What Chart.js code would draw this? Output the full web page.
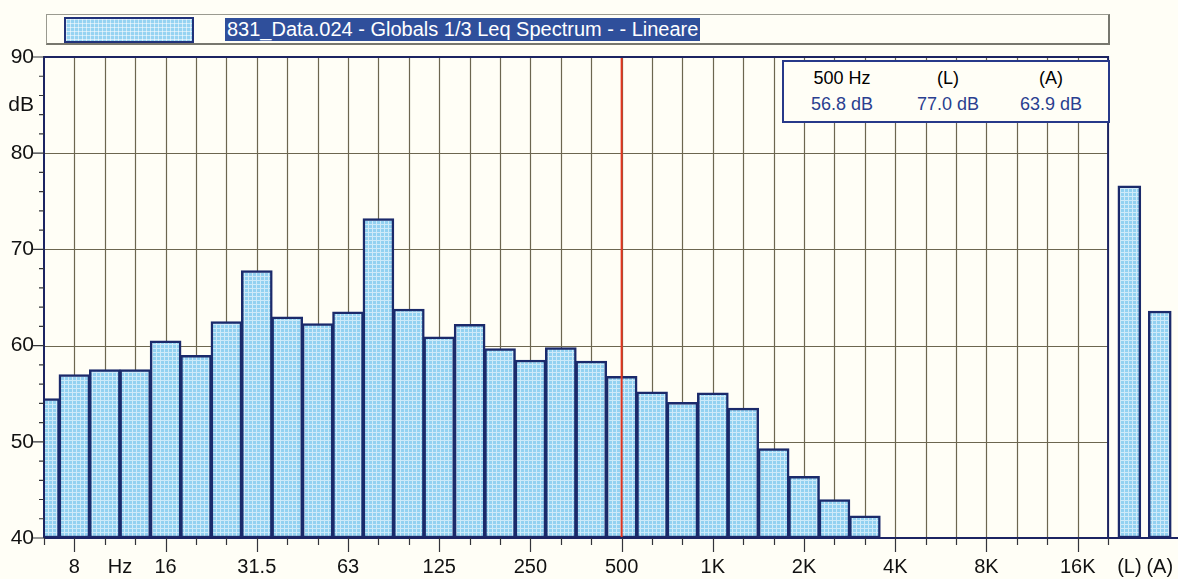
<!DOCTYPE html>
<html>
<head>
<meta charset="utf-8">
<title>831_Data.024 - Globals 1/3 Leq Spectrum</title>
<script src="https://cdn.jsdelivr.net/npm/chart.js@4.4.0/dist/chart.umd.min.js"></script>
<style>
  body { margin: 0; background: #fffef6; font-family: "Liberation Sans", Arial, sans-serif; }
  #wrap { position: relative; width: 1178px; height: 579px; }
  #legendBox {
    position: absolute; left: 46px; top: 14px; width: 1064px; height: 31px;
    box-sizing: border-box; border: 1px solid #9a9a90;
    border-right: 2px solid #77776e; border-bottom: 2px solid #77776e;
  }
  #swatch {
    position: absolute; left: 17px; top: 2px; width: 130px; height: 26px;
    box-sizing: border-box; border: 2px solid #21327a;
    background-color: #96d3f2;
    background-image: linear-gradient(rgba(255,255,255,.55) 1px, transparent 1px),
                      linear-gradient(90deg, rgba(255,255,255,.55) 1px, transparent 1px);
    background-size: 4px 4px;
  }
  #legendText {
    position: absolute; left: 178px; top: 3px; height: 23px; line-height: 23px;
    padding: 0 2px; background: #2f4f9b; color: #fff; font-size: 20px;
  }
  #infoBox {
    position: absolute; left: 782px; top: 60px; width: 328px; height: 63px;
    box-sizing: border-box; border: 2px solid #27398a;
    background: #fffef6; z-index: 2;
  }
  .col { position: absolute; width: 110px; text-align: center; font-size: 18px; line-height: 20px; }
  .col .v { color: #2a3f90; margin-top: 6px; }
  #chartBox { position: absolute; left: 0; top: 0; width: 1178px; height: 579px; }
</style>
</head>
<body>
<div id="wrap">
  <div id="chartBox"><canvas id="myChart"></canvas></div>
  <div id="legendBox">
    <div id="swatch"></div>
    <div id="legendText">831_Data.024 - Globals 1/3 Leq Spectrum - - Lineare</div>
  </div>
  <div id="infoBox">
    <div class="col" style="left:3px;top:6px"><div>500 Hz</div><div class="v">56.8 dB</div></div>
    <div class="col" style="left:109px;top:6px"><div>(L)</div><div class="v">77.0 dB</div></div>
    <div class="col" style="left:212px;top:6px"><div>(A)</div><div class="v">63.9 dB</div></div>
  </div>
</div>
<script>
// bande di terzo d'ottava
var bandNames = ['6.3', '8', '10', '12.5', '16', '20', '25', '31.5', '40', '50', '63', '80',
  '100', '125', '160', '200', '250', '315', '400', '500', '630', '800', '1K', '1.25K',
  '1.6K', '2K', '2.5K', '3.15K', '4K', '5K', '6.3K', '8K', '10K', '12.5K', '16K', '20K'];
var bandLevels = [54.5, 57.0, 57.5, 57.5, 60.5, 59.0, 62.5, 67.8, 63.0, 62.3, 63.5, 73.2,
  63.8, 60.9, 62.2, 59.7, 58.5, 59.8, 58.4, 56.8, 55.2, 54.1, 55.1, 53.5,
  49.3, 46.4, 44.0, 42.3, null, null, null, null, null, null, null, null];
// etichette sotto l'asse
var axisBands = ['8', '16', '31.5', '63', '125', '250', '500', '1K', '2K', '4K', '8K', '16K'];
var unitLabel = 'Hz';
// globali
var totalNames = ['(L)', '(A)'];
var totalLevels = [76.6, 63.6];
// asse y
var yTickValues = [40, 50, 60, 70, 80, 90];
var yUnit = 'dB';
var cursorBand = '500';

var last = bandNames.length - 1;
var totalPos = totalNames.map(function (n, i) { return last + 0.7 + i; });

// riempimento a griglia delle barre
function barPattern() {
  var c = document.createElement('canvas');
  c.width = 4; c.height = 4;
  var g = c.getContext('2d');
  g.fillStyle = '#92d1f1';
  g.fillRect(0, 0, 4, 4);
  g.fillStyle = 'rgba(255,255,255,0.55)';
  g.fillRect(0, 0, 4, 1);
  g.fillRect(0, 1, 1, 3);
  return g.createPattern(c, 'repeat');
}
var fill = barPattern();

// tick dell'asse x
var xTicks = [], xTickText = [];
axisBands.forEach(function (b) { xTicks.push(bandNames.indexOf(b)); xTickText.push(b); });
xTicks.push(2.5); xTickText.push(unitLabel);
totalPos.forEach(function (p, i) { xTicks.push(p); xTickText.push(totalNames[i]); });

var frame = {
  id: 'frame',
  beforeDatasetsDraw: function (chart) {
    var ctx = chart.ctx, x = chart.scales.x, y = chart.scales.y, a = chart.chartArea;
    var xEnd = x.getPixelForValue(last);
    ctx.save();
    ctx.strokeStyle = '#6c6650';
    ctx.lineWidth = 1.2;
    ctx.beginPath();
    for (var v = 50; v < 90; v += 10) {
      var py = Math.round(y.getPixelForValue(v)) + 0.5;
      ctx.moveTo(a.left, py); ctx.lineTo(xEnd, py);
    }
    for (var i = 1; i < last; i++) {
      var px = Math.round(x.getPixelForValue(i)) + 0.5;
      ctx.moveTo(px, a.top); ctx.lineTo(px, a.bottom);
    }
    ctx.stroke();
    ctx.restore();
  },
  afterDatasetsDraw: function (chart) {
    var ctx = chart.ctx, x = chart.scales.x, y = chart.scales.y, a = chart.chartArea;
    var xEnd = x.getPixelForValue(last);
    ctx.save();
    // cursore
    var cx = x.getPixelForValue(bandNames.indexOf(cursorBand));
    ctx.strokeStyle = '#e3361f';
    ctx.lineWidth = 2;
    ctx.beginPath(); ctx.moveTo(cx, a.top); ctx.lineTo(cx, a.bottom); ctx.stroke();
    // cornice
    ctx.strokeStyle = '#1c2462';
    ctx.lineWidth = 2;
    ctx.beginPath();
    ctx.moveTo(a.left, a.bottom); ctx.lineTo(a.left, a.top); ctx.lineTo(xEnd, a.top); ctx.lineTo(xEnd, a.bottom);
    ctx.moveTo(a.left, a.bottom); ctx.lineTo(a.right, a.bottom);
    ctx.stroke();
    // tacche
    ctx.strokeStyle = '#33343a';
    ctx.lineWidth = 1.2;
    ctx.beginPath();
    for (var v = 40; v <= 90; v += 2) {
      var py = y.getPixelForValue(v);
      ctx.moveTo(a.left - (v % 10 === 0 ? 11 : 5), py); ctx.lineTo(a.left, py);
    }
    for (var i = 0; i <= last; i++) {
      var px = Math.round(x.getPixelForValue(i)) + 0.5;
      var big = axisBands.indexOf(bandNames[i]) >= 0;
      ctx.moveTo(px, a.bottom); ctx.lineTo(px, a.bottom + (big ? 14 : 7));
    }
    ctx.stroke();
    ctx.restore();
  }
};

var ctx = document.getElementById('myChart').getContext('2d');
var myChart = new Chart(ctx, {
  type: 'bar',
  data: {
    datasets: [{
      label: 'Spectrum',
      data: bandLevels.map(function (v, i) { return { x: i, y: v }; }),
      backgroundColor: fill,
      borderColor: '#1b2a6b',
      borderWidth: 2.5,
      borderSkipped: false,
      barThickness: 31,
      base: 40,
      clip: 0
    }, {
      label: 'Globals',
      data: totalLevels.map(function (v, i) { return { x: totalPos[i], y: v }; }),
      backgroundColor: fill,
      borderColor: '#1b2a6b',
      borderWidth: 2.5,
      borderSkipped: false,
      barThickness: 23,
      base: 40,
      clip: 0
    }]
  },
  plugins: [frame],
  options: {
    responsive: true,
    maintainAspectRatio: false,
    animation: false,
    grouped: false,
    layout: { padding: { top: 57, right: 0, left: 0, bottom: 0 } },
    plugins: { legend: { display: false }, tooltip: { enabled: false } },
    scales: {
      x: {
        type: 'linear',
        offset: false,
        min: 0,
        max: 37.3,
        grid: { display: false, drawTicks: false, offset: false },
        border: { display: false },
        afterBuildTicks: function (s) { s.ticks = xTicks.map(function (v) { return { value: v }; }); },
        afterFit: function (s) { s.height = 41; s.paddingLeft = 0; s.paddingRight = 0; },
        ticks: {
          autoSkip: false, maxRotation: 0, padding: 17,
          color: '#111', font: { family: 'Liberation Sans', size: 20 },
          callback: function (v, i) { return xTickText[i]; }
        }
      },
      y: {
        min: 40,
        max: 90,
        grid: { display: false, drawTicks: false },
        border: { display: false },
        afterBuildTicks: function (s) {
          var t = yTickValues.map(function (v) { return { value: v }; });
          t.push({ value: 85 });
          s.ticks = t;
        },
        afterFit: function (s) { s.width = 44; s.paddingTop = 0; s.paddingBottom = 0; },
        ticks: {
          padding: 10,
          color: '#111', font: { family: 'Liberation Sans', size: 21 },
          callback: function (v) { return v === 85 ? yUnit : String(v); }
        }
      }
    }
  }
});
</script>
</body>
</html>
